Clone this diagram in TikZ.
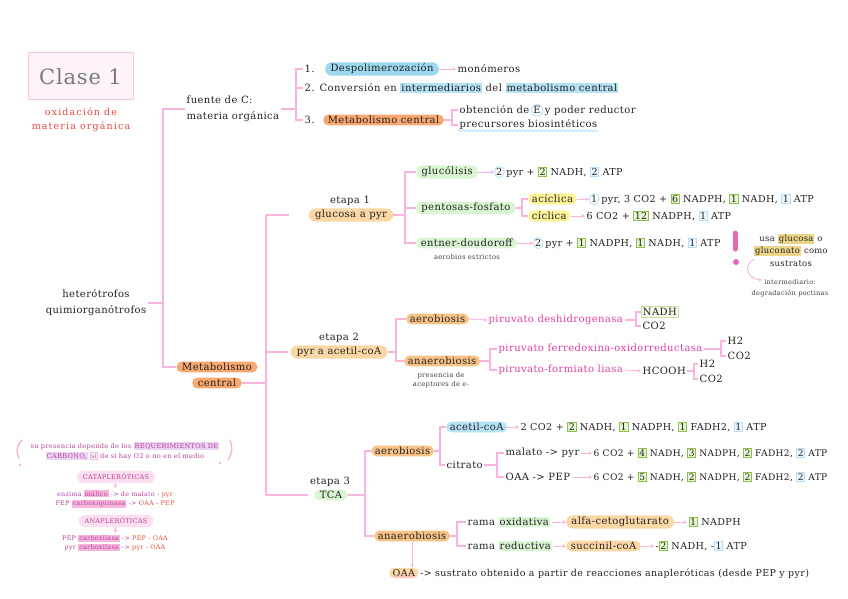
\documentclass[tikz,border=0pt]{standalone}
\usepackage{fontspec}
\setmainfont{DejaVu Serif}[LetterSpace=4]
\usetikzlibrary{arrows.meta,shapes.misc,shapes.geometric,decorations.pathmorphing}
\definecolor{pinkline}{HTML}{F8B4DE}
\definecolor{pinkbox}{HTML}{F7C6E4}
\definecolor{pinkfill}{HTML}{FEF3FA}
\definecolor{titlegray}{HTML}{7A7A7A}
\definecolor{redtxt}{HTML}{E8453C}
\definecolor{txt}{HTML}{222222}
\definecolor{orng}{HTML}{F8A870}
\definecolor{lorng}{HTML}{FCD7A6}
\definecolor{ohlc}{HTML}{F7C386}
\definecolor{gpl}{HTML}{D9F5D2}
\definecolor{bdark}{HTML}{9CD8F0}
\definecolor{bhl}{HTML}{B5E2F4}
\definecolor{yel}{HTML}{FFF39A}
\definecolor{gbord}{HTML}{8BC34A}
\definecolor{gfill}{HTML}{E8F6D6}
\definecolor{bbord}{HTML}{B9DDF8}
\definecolor{bfill}{HTML}{EEF7FE}
\definecolor{magtxt}{HTML}{E0409F}
\definecolor{notemag}{HTML}{B8439A}
\definecolor{lpurple}{HTML}{EBD3F3}
\definecolor{pinkhl}{HTML}{F7B6DC}
\definecolor{orred}{HTML}{E8553A}
\definecolor{ghl}{HTML}{EDD68A}
\definecolor{excl}{HTML}{E868B8}
\newcommand\msz{\fontsize{10}{12}\selectfont}
\newcommand\rsz{\fontsize{9.6}{12}\selectfont}
\newcommand\gbx[1]{{\setlength\fboxsep{0.7pt}\setlength\fboxrule{0.8pt}\fcolorbox{gbord}{gfill}{#1}}}
\newcommand\bbx[1]{{\setlength\fboxsep{0.7pt}\setlength\fboxrule{0.8pt}\fcolorbox{bbord}{bfill}{#1}}}
\newcommand\hlc[2]{{\setlength\fboxsep{1pt}\colorbox{#1}{#2}}}
\begin{document}
\begin{tikzpicture}[x=1pt,y=-1pt,
  every node/.style={font=\msz, text=txt, inner sep=1.5pt},
  pill/.style={rounded rectangle, inner xsep=4pt, inner ysep=1.6pt},
  opill/.style={pill, fill=orng},
  lopill/.style={pill, fill=lorng},
  gpill/.style={pill, fill=gpl, inner xsep=3pt},
  bpill/.style={pill, fill=bdark, inner xsep=3pt},
  ohl/.style={pill, fill=ohlc, inner xsep=2pt},
  yhl/.style={pill, fill=yel, inner xsep=2pt},
  bhlnode/.style={pill, fill=bhl, inner xsep=2pt},
  ppill/.style={pill, fill=pinkhl!45, text=notemag, font=\fontsize{6.5}{8}\selectfont, inner ysep=3pt, inner xsep=5pt},
  circ/.style={ellipse, draw=bbord, line width=0.8pt, inner sep=0.4pt},
  mag/.style={text=magtxt},
  res/.style={font=\rsz},
  tinytxt/.style={font=\fontsize{6.8}{8}\selectfont, text=txt!85},
  note/.style={font=\fontsize{6.6}{10}\selectfont, text=notemag, align=center},
  tl/.style={draw=pinkline, line width=1.2pt},
  ar/.style={draw=pinkline, line width=0.9pt, -{Stealth[length=3.5pt,width=3.5pt]}},
  wavyb/.style={draw=bbord, line width=0.8pt, decorate, decoration={snake, segment length=4pt, amplitude=0.9pt}},
  wavyp/.style={draw=pinkline, line width=0.8pt, decorate, decoration={snake, segment length=4pt, amplitude=0.9pt}}]
\useasboundingbox[fill=white] (0,0) rectangle (848,599);

% title
\node[draw=pinkbox, fill=pinkfill, line width=1pt, minimum width=105, minimum height=47,
  font=\fontsize{21}{24}\selectfont, text=titlegray] (title) at (80.5,76.5) {Clase 1};
\node[align=center, text=redtxt, font=\fontsize{9.5}{14}\selectfont\addfontfeature{LetterSpace=12}] (sub) at (81,120) {oxidación de\\materia orgánica};

% left trunk
\coordinate (t1) at (163,0);
\node[align=center, font=\fontsize{10}{16}\selectfont] (het) at (96,303) {heterótrofos\\quimiorganótrofos};
\node[anchor=west, align=left, font=\fontsize{10}{16}\selectfont] (fue) at (185,109) {fuente de C:\\materia orgánica};
\node[opill] (mc1) at (217,367) {Metabolismo};
\node[opill] (mc2) at (217,383) {central};
\draw[tl] (fue.west) -- (fue.west -| t1) -- (mc1.west -| t1) -- (mc1.west);
\draw[tl] (het.east) -- (het.east -| t1);

% fuente de C items
\coordinate (b1) at (296,0);
\node[anchor=west] (i1) at (303,69) {1.};
\node[bpill, anchor=west] (desp) at (325,69) {Despolimerozación};
\node[anchor=west] (mono) at (456,69) {monómeros};
\draw[ar] (desp.east) -- (mono.west);
\node[anchor=west] (i2) at (303,88) {2.\hspace{5pt}Conversión en \hlc{bhl}{intermediarios} del \hlc{bhl}{metabolismo central}};
\node[anchor=west] (i3) at (303,120) {3.};
\node[opill, anchor=west, inner xsep=3pt] (mc3) at (323,120) {Metabolismo central};
\draw[tl] (fue.east) -- (fue.east -| b1);
\draw[tl] (i1.west) -- (i1.west -| b1) -- (i3.west -| b1) -- (i3.west);
\draw[tl] (i2.west) -- (i2.west -| b1);
\coordinate (b2) at (452,0);
\node[anchor=west] (ob1) at (458,110) {obtención de};
\node[circ, anchor=base west] (E) at (ob1.base east) {E};
\node[anchor=base west] (ob2) at (E.base east) {y poder reductor};
\node[anchor=west] (pre) at (458,125) {precursores biosintéticos};
\draw[wavyb] ([yshift=1pt]pre.south west) -- ([yshift=1pt]pre.south east);
\draw[tl] (mc3.east) -- (mc3.east -| b2);
\draw[tl] (ob1.west) -- (ob1.west -| b2) -- (pre.west -| b2) -- (pre.west);

% middle trunk
\coordinate (t2) at (266,0);
\node (e1t) at (350,201) {etapa 1};
\node[lopill] (e1) at (351,215) {glucosa a pyr};
\node (e2t) at (339,338) {etapa 2};
\node[lopill] (e2) at (339,352) {pyr a acetil-coA};
\node (e3t) at (330,482) {etapa 3};
\node[gpill, inner xsep=4pt] (e3) at (331,495) {TCA};
\draw[tl] (e1.west -| t2) -- (e3.west -| t2);
\draw[tl, shorten >=20pt] (e1.west -| t2) -- (e1.west);
\draw[tl, shorten >=2pt] (e2.west -| t2) -- (e2.west);
\draw[tl, shorten >=6pt] (e3.west -| t2) -- (e3.west);
\draw[tl] (mc2.east) -- (mc2.east -| t2);

% etapa 1
\coordinate (b3) at (405,0);
\node[gpill, anchor=west] (glu) at (416,172) {glucólisis};
\node[gpill, anchor=west] (pen) at (416,208) {pentosas-fosfato};
\node[gpill, anchor=west] (ent) at (416,243) {entner-doudoroff};
\draw[tl] (e1.east) -- (e1.east -| b3);
\draw[tl] (glu.west) -- (glu.west -| b3) -- (ent.west -| b3) -- (ent.west);
\draw[tl] (pen.west) -- (pen.west -| b3);
\node[circ, anchor=west, res] (g1c) at (494,172) {2};
\node[anchor=base west, res] (g1r) at (g1c.base east) {pyr + \gbx{2} NADH, \bbx{2} ATP};
\draw[ar] (glu.east) -- (g1c.west);
\coordinate (b4) at (522,0);
\node[yhl, anchor=west] (aci) at (528,199) {acíclica};
\node[yhl, anchor=west] (cic) at (528,216) {cíclica};
\draw[tl] (pen.east) -- (pen.east -| b4);
\draw[tl] (aci.west) -- (aci.west -| b4) -- (cic.west -| b4) -- (cic.west);
\node[circ, anchor=west, res] (a1c) at (589,199) {1};
\node[anchor=base west, res] (a1r) at (a1c.base east) {pyr, 3 CO2 + \gbx{6} NADPH, \gbx{1} NADH, \bbx{1} ATP};
\draw[ar] (aci.east) -- (a1c.west);
\node[anchor=west, res] (c1r) at (585,216) {6 CO2 + \gbx{12} NADPH, \bbx{1} ATP};
\draw[ar] (cic.east) -- (c1r.west);
\node[circ, anchor=west, res] (en1c) at (533,243) {2};
\node[anchor=base west, res] (en1r) at (en1c.base east) {pyr + \gbx{1} NADPH, \gbx{1} NADH, \bbx{1} ATP};
\draw[ar] (ent.east) -- (en1c.west);
\node[tinytxt] (aer) at (467,257) {aerobios estrictos};

% note exclamation
\draw[excl, line width=5pt, line cap=round] (735,233) -- (735,249);
\fill[excl] (736,262) circle (3pt);
\node[align=center, font=\fontsize{8.4}{12.5}\selectfont] (usa) at (791,250) {usa \hlc{ghl}{glucosa} o\\\hlc{ghl}{gluconato} como\\sustratos};
\coordinate (cu1) at (754,259);
\coordinate (cu2) at (762,280);
\draw[ar] (cu1) .. controls (742,266) and (748,279) .. (cu2);
\node[tinytxt, align=center, font=\fontsize{6.6}{11}\selectfont] (inter) at (790,288) {intermediario:\\degradación pectinas};

% etapa 2
\coordinate (b5) at (396,0);
\node[ohl, anchor=west] (aer2) at (406,319) {aerobiosis};
\node[ohl, anchor=west] (ana2) at (404,361) {anaerobiosis};
\draw[tl] (e2.east) -- (e2.east -| b5);
\draw[tl] (aer2.west) -- (aer2.west -| b5) -- (ana2.west -| b5) -- (ana2.west);
\node[tinytxt, align=center, font=\fontsize{6.8}{9}\selectfont] (pres) at (441,380) {presencia de\\aceptores de e-};
\node[mag, anchor=west] (pdh) at (487,320) {piruvato deshidrogenasa};
\draw[ar] (aer2.east) -- (pdh.west);
\coordinate (b6) at (636,0);
\node[anchor=west, draw=gbord!50, fill=gfill!40, line width=0.8pt] (nadh2) at (641,312) {NADH};
\node[anchor=west] (co2a) at (641,326) {CO2};
\draw[tl] (pdh.east) -- (pdh.east -| b6);
\draw[tl] (nadh2.west) -- (nadh2.west -| b6) -- (co2a.west -| b6) -- (co2a.west);
\coordinate (b7) at (490,0);
\node[mag, anchor=west] (pfo) at (497,349) {piruvato ferredoxina-oxidorreductasa};
\node[mag, anchor=west] (pfl) at (497,370) {piruvato-formiato liasa};
\draw[tl] (ana2.east) -- (ana2.east -| b7);
\draw[tl] (pfo.west) -- (pfo.west -| b7) -- (pfl.west -| b7) -- (pfl.west);
\coordinate (b8) at (721,0);
\node[anchor=west] (h2a) at (726,341) {H2};
\node[anchor=west] (co2b) at (726,356) {CO2};
\draw[tl] (pfo.east) -- (pfo.east -| b8);
\draw[tl] (h2a.west) -- (h2a.west -| b8) -- (co2b.west -| b8) -- (co2b.west);
\node[anchor=west] (hcooh) at (641,371) {HCOOH};
\draw[ar] (pfl.east) -- (hcooh.west);
\coordinate (b9) at (694,0);
\node[anchor=west] (h2b) at (698,364) {H2};
\node[anchor=west] (co2c) at (698,379) {CO2};
\draw[tl] (hcooh.east) -- (hcooh.east -| b9);
\draw[tl] (h2b.west) -- (h2b.west -| b9) -- (co2c.west -| b9) -- (co2c.west);

% etapa 3
\coordinate (b10) at (365,0);
\node[ohl, anchor=west] (aer3) at (371,451) {aerobiosis};
\node[ohl, anchor=west] (ana3) at (374,536) {anaerobiosis};
\draw[tl] (e3.east) -- (e3.east -| b10);
\draw[tl] (aer3.west) -- (aer3.west -| b10) -- (ana3.west -| b10) -- (ana3.west);
\coordinate (b11) at (440,0);
\node[bhlnode, anchor=west] (acet) at (446,427) {acetil-coA};
\node[anchor=west] (citr) at (445,465) {citrato};
\draw[tl] (aer3.east) -- (aer3.east -| b11);
\draw[tl] (acet.west) -- (acet.west -| b11) -- (citr.west -| b11) -- (citr.west);
\node[anchor=west, res] (acr) at (519,427) {2 CO2 + \gbx{2} NADH, \gbx{1} NADPH, \gbx{1} FADH2, \bbx{1} ATP};
\draw[ar] (acet.east) -- (acr.west);
\coordinate (b12) at (497,0);
\node[anchor=west] (mal) at (504,453) {malato -> pyr};
\node[anchor=west] (oaa) at (504,477) {OAA -> PEP};
\draw[tl] (citr.east) -- (citr.east -| b12);
\draw[tl] (mal.west) -- (mal.west -| b12) -- (oaa.west -| b12) -- (oaa.west);
\node[anchor=west, font=\fontsize{9.1}{12}\selectfont] (mr) at (592,453) {6 CO2 + \gbx{4} NADH, \gbx{3} NADPH, \gbx{2} FADH2, \bbx{2} ATP};
\draw[ar] (mal.east) -- (mr.west);
\node[anchor=west, font=\fontsize{9.1}{12}\selectfont] (orr) at (592,477) {6 CO2 + \gbx{5} NADH, \gbx{2} NADPH, \gbx{2} FADH2, \bbx{2} ATP};
\draw[ar] (oaa.east) -- (orr.west);
\coordinate (b13) at (457,0);
\node[anchor=west] (rox) at (466,522) {rama \hlc{gpl}{oxidativa}};
\node[anchor=west] (rre) at (466,546) {rama \hlc{gpl}{reductiva}};
\draw[tl] (ana3.east) -- (ana3.east -| b13);
\draw[tl] (rox.west) -- (rox.west -| b13) -- (rre.west -| b13) -- (rre.west);
\node[lopill, anchor=west, inner xsep=3pt] (alfa) at (566,522) {alfa-cetoglutarato};
\draw[ar] (rox.east) -- (alfa.west);
\node[anchor=west, res] (alr) at (687,522) {\gbx{1} NADPH};
\draw[ar] (alfa.east) -- (alr.west);
\node[lopill, anchor=west, inner xsep=3pt] (succ) at (566,546) {succinil-coA};
\draw[ar] (rre.east) -- (succ.west);
\node[anchor=west, res] (sur) at (654,546) {-\gbx{2} NADH, -\bbx{1} ATP};
\draw[ar] (succ.east) -- (sur.west);
\node[lopill, anchor=west, inner xsep=2pt, font=\fontsize{9.5}{12}\selectfont] (oaa2) at (389,573) {OAA};
\node[anchor=base west, font=\fontsize{9.5}{12}\selectfont] (oaat) at (oaa2.base east) {-> sustrato obtenido a partir de reacciones anapleróticas (desde PEP y pyr)};
\draw[wavyp] ([yshift=2pt]oaa2.south west) -- ([yshift=2pt]oaa2.south east);
\draw[ar] (ana3.south) -- (ana3.south |- oaa2.north);

% bottom-left notes
\node[note] (req) at (125,451) {su presencia depende de los \hlc{lpurple}{REQUERIMIENTOS DE}\\\hlc{lpurple}{CARBONO,} {\setlength\fboxsep{0.5pt}\fcolorbox{pinkhl}{white}{si}} de si hay O2 o no en el medio};
\draw[pinkline, line width=1.4pt, line cap=round] (22,440) .. controls (16,447) and (16,453) .. (19,458);
\fill[pinkline] (20,465) circle (1.3pt);
\draw[pinkline, line width=1.4pt, line cap=round] (230,440) .. controls (233,448) and (232,454) .. (228,460);
\fill[pinkline] (220,463) circle (1.3pt);
\node[ppill] (cata) at (116,477) {CATAPLERÓTICAS};
\node[note, font=\fontsize{6.4}{9.5}\selectfont] (catat) at (115,499) {enzima \hlc{pinkhl}{málico} -> de malato - {\color{orred}pyr}\\PEP \hlc{pinkhl}{carboxiquinasa} -> {\color{orred}OAA} - {\color{orred}PEP}};
\draw[ar] (cata.south) -- (catat.north);
\node[ppill] (ana) at (116,521) {ANAPLERÓTICAS};
\node[note, font=\fontsize{6.4}{9.5}\selectfont] (anat) at (115,543) {PEP \hlc{pinkhl}{carboxilasa} -> {\color{orred}PEP} - {\color{orred}OAA}\\pyr \hlc{pinkhl}{carboxilasa} -> {\color{orred}pyr} - {\color{orred}OAA}};
\draw[ar] (ana.south) -- (anat.north);
\end{tikzpicture}
\end{document}
